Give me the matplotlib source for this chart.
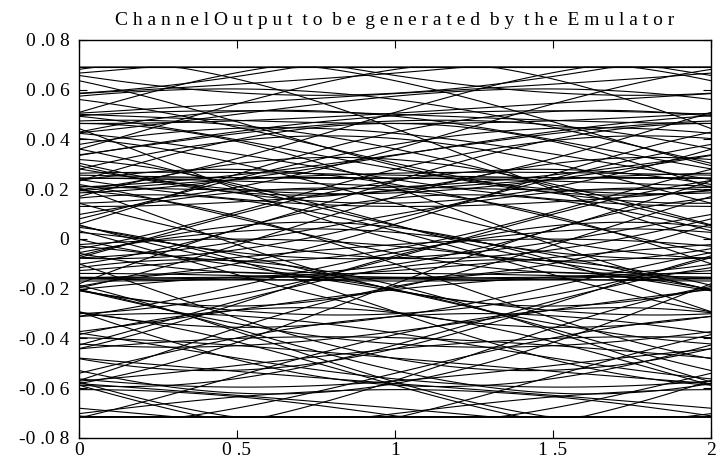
import matplotlib
matplotlib.use("Agg")
import matplotlib.pyplot as plt
import numpy as np

# Emulator oscillator bank: frequency (cycles per symbol), gain, phase (deg)
osc_freq = [0.0078, 0.021, 0.043, 0.087, 0.196, 0.228]
osc_gain = [0.052, 0.015, 0.010, 0.008, 0.018, 0.014]
osc_phase = [0, 110, 250, 60, 300, 170]

# output limiter levels
clip_low, clip_high = -0.0715, 0.069

n_traces = 128      # number of 2-symbol windows overlaid
samples = 40        # samples per symbol

t = np.arange(0, (n_traces + 1) * samples + 1) / samples
signal = np.zeros_like(t)
for f, g, ph in zip(osc_freq, osc_gain, osc_phase):
    signal += g * np.cos(2 * np.pi * f * t + np.deg2rad(ph))
signal = np.clip(signal, clip_low, clip_high)

plt.rcParams['font.family'] = ['Liberation Serif', 'DejaVu Serif']

fig = plt.figure(figsize=(7.16, 4.66), dpi=100)
ax = fig.add_axes([0.1103, 0.0601, 0.8827, 0.8541])

x = t[:2 * samples + 1]
for k in range(n_traces):
    seg = signal[k * samples:k * samples + 2 * samples + 1]
    ax.plot(x, seg, color='black', lw=0.8)

ax.set_xlim(0, 2)
ax.set_ylim(-0.08, 0.08)

xticks = [0, 0.5, 1, 1.5, 2]
xlabels = ['0', '0 .5', '1', '1 .5', '2']
yticks = [-0.08, -0.06, -0.04, -0.02, 0, 0.02, 0.04, 0.06, 0.08]
ylabels = ['-0 .0 8', '-0 .0 6', '-0 .0 4', '-0 .0 2', '0',
           '0 .0 2', '0 .0 4', '0 .0 6', '0 .0 8']
ax.set_xticks(xticks)
ax.set_xticklabels(xlabels)
ax.set_yticks(yticks)
ax.set_yticklabels(ylabels)
ax.tick_params(direction='in', length=6, width=0.8, labelsize=14,
               top=True, right=True)
ax.tick_params(axis='y', pad=7)
ax.tick_params(axis='x', pad=3)
for s in ax.spines.values():
    s.set_linewidth(1.0)

ax.set_title('C h a n n e l O u t p u t  t o  b e  g e n e r a t e d  b y  t h e  E m u l a t o r',
             fontsize=14, pad=11)

fig.savefig('out.png', dpi=100)
